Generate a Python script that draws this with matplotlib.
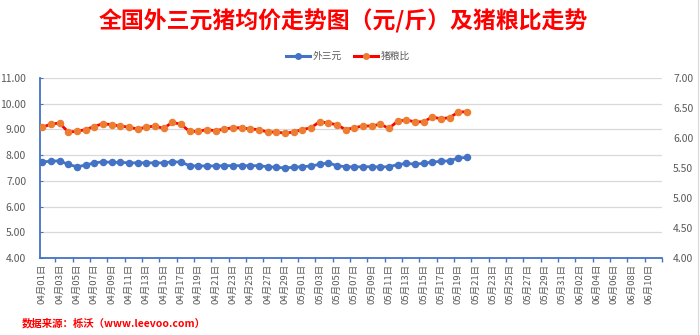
import matplotlib
matplotlib.use("Agg")
import matplotlib.pyplot as plt
from matplotlib.lines import Line2D
import numpy as np
import pandas as pd

plt.rcParams['font.family'] = ['Noto Sans CJK SC', 'DejaVu Sans']

# Category axis: every day from 1 April to 10 June
dates = pd.date_range("2024-04-01", "2024-06-10", freq="D")
date_labels = [f"{d.month:02d}月{d.day:02d}日" for d in dates]

# 外三元 average price (yuan/jin), left axis
pork_price = [7.74, 7.76, 7.78, 7.64, 7.55, 7.61, 7.70, 7.74, 7.72, 7.72,
              7.70, 7.70, 7.70, 7.70, 7.70, 7.74, 7.73, 7.59, 7.58, 7.58,
              7.58, 7.59, 7.59, 7.59, 7.59, 7.59, 7.55, 7.53, 7.50, 7.53,
              7.55, 7.58, 7.64, 7.70, 7.59, 7.55, 7.54, 7.55, 7.55, 7.54,
              7.55, 7.63, 7.68, 7.65, 7.68, 7.73, 7.76, 7.78, 7.89, 7.91]

# 猪粮比 (hog-to-grain ratio), right axis
hog_grain_ratio = [6.18, 6.23, 6.25, 6.10, 6.11, 6.14, 6.19, 6.24, 6.22, 6.20,
                   6.18, 6.15, 6.18, 6.20, 6.16, 6.26, 6.23, 6.11, 6.11, 6.14,
                   6.12, 6.15, 6.17, 6.17, 6.15, 6.14, 6.10, 6.10, 6.08, 6.10,
                   6.14, 6.17, 6.27, 6.25, 6.22, 6.14, 6.17, 6.20, 6.20, 6.23,
                   6.16, 6.28, 6.30, 6.27, 6.27, 6.35, 6.32, 6.34, 6.43, 6.44]

left_ticks = [4, 5, 6, 7, 8, 9, 10, 11]
right_ticks = [4.0, 4.5, 5.0, 5.5, 6.0, 6.5, 7.0]

BLUE = "#4472C4"
RED = "#FF0000"
ORANGE = "#ED7D31"
GRAY = "#595959"
GRID = "#D9D9D9"

fig = plt.figure(figsize=(7.0, 3.35), dpi=100)
ax = fig.add_axes([40 / 700, 1 - 258 / 335, (662 - 40) / 700, (258 - 78) / 335])
ax2 = ax.twinx()

x = np.arange(len(pork_price))
ax.plot(x, pork_price, color=BLUE, lw=2.0, marker="o", ms=4.4,
        mfc=BLUE, mec=BLUE, zorder=3)
ax2.plot(x, hog_grain_ratio, color=RED, lw=2.0, marker="o", ms=4.4,
         mfc=ORANGE, mec=ORANGE, zorder=3)

ax.set_xlim(-0.25, 71.5)
ax.set_ylim(4, 11)
ax2.set_ylim(4, 7)

ax.set_yticks(left_ticks)
ax.set_yticklabels([f"{v:.2f}" for v in left_ticks])
ax2.set_yticks(right_ticks)
ax2.set_yticklabels([f"{v:.2f}" for v in right_ticks])

idx = np.arange(0, len(dates), 2)
ax.set_xticks(idx)
ax.set_xticklabels([date_labels[i] for i in idx], rotation=90, fontsize=6.8,
                   color=GRAY)
ax.tick_params(axis="x", length=0, pad=4)
ax.set_xticks(np.arange(1.5, 72, 2), minor=True)
ax.tick_params(axis="x", which="minor", length=3, color=BLUE, width=1,
               direction="out")

ax.tick_params(axis="y", labelsize=7.5, labelcolor=GRAY, length=2.5,
               direction="in", color=BLUE, pad=10)
ax2.tick_params(axis="y", labelsize=7.5, labelcolor=GRAY, length=0, pad=8)

ax.grid(axis="y", color=GRID, lw=0.9)
ax.set_axisbelow(True)

for s in ["top", "right"]:
    ax.spines[s].set_visible(False)
for s in ["top", "right", "left", "bottom"]:
    ax2.spines[s].set_visible(False)
ax.spines["left"].set_color(BLUE)
ax.spines["left"].set_linewidth(1.3)
ax.spines["bottom"].set_color(BLUE)
ax.spines["bottom"].set_linewidth(1.3)

fig.text(0.491, 0.935, "全国外三元猪均价走势图（元/斤）及猪粮比走势", color=RED,
         fontsize=16.5, fontweight="bold", ha="center", va="center")

handles = [
    Line2D([], [], color=BLUE, lw=2.2, marker="o", ms=4, mfc=BLUE, mec=BLUE),
    Line2D([], [], color=RED, lw=2.2, marker="o", ms=4, mfc=ORANGE, mec=ORANGE),
]
fig.legend(handles, ["外三元", "猪粮比"], loc="center", ncol=2,
           bbox_to_anchor=(0.497, 0.833), frameon=False, fontsize=7,
           labelcolor=GRAY, handlelength=2.5, handletextpad=0.3,
           columnspacing=1.2)

fig.text(22 / 700, 1 - 323 / 335, "数据来源：栎沃（www.leevoo.com）",
         color=RED, fontsize=7.5, fontweight="bold", ha="left", va="center")

fig.add_artist(Line2D([698 / 700, 698 / 700], [0, 1], color=GRID, lw=0.8,
                      transform=fig.transFigure))

fig.savefig("out.png", dpi=100)
